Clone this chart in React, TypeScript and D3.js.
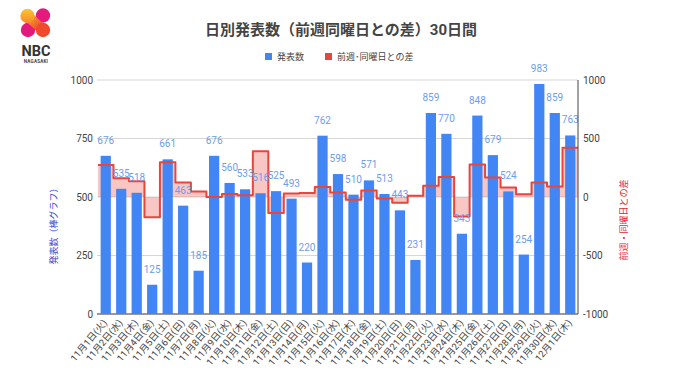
import React from 'react';
import * as d3 from 'd3';

const dates = [
  '11月1日(火)', '11月2日(水)', '11月3日(木)', '11月4日(金)', '11月5日(土)', '11月6日(日)', '11月7日(月)',
  '11月8日(火)', '11月9日(水)', '11月10日(木)', '11月11日(金)', '11月12日(土)', '11月13日(日)', '11月14日(月)',
  '11月15日(火)', '11月16日(水)', '11月17日(木)', '11月18日(金)', '11月19日(土)', '11月20日(日)', '11月21日(月)',
  '11月22日(火)', '11月23日(水)', '11月24日(木)', '11月25日(金)', '11月26日(土)', '11月27日(日)', '11月28日(月)',
  '11月29日(火)', '11月30日(水)', '12月1日(木)',
];
const counts = [
  676, 535, 518, 125, 661, 463, 185,
  676, 560, 533, 516, 525, 493, 220,
  762, 598, 510, 571, 513, 443, 231,
  859, 770, 343, 848, 679, 524, 254,
  983, 859, 763,
];
const diffs = [
  273, 160, 135, -174, 296, 125, 46,
  0, 25, 15, 391, -136, 30, 35,
  86, 38, -23, 55, -12, -50, 11,
  97, 172, -167, 277, 166, 81, 23,
  124, 89, 420,
];
const leftTicks = [0, 250, 500, 750, 1000];
const rightTicks = [-1000, -500, 0, 500, 1000];

const TITLE = '日別発表数（前週同曜日との差）30日間';
const LEG_BAR = '発表数';
const LEG_DIFF = '前週･同曜日との差';
const Y_LEFT_TITLE = '発表数（棒グラフ）';
const Y_RIGHT_TITLE = '前週・同曜日との差';

const W = 680;
const H = 382;
const PL = 98;
const PR = 578;
const PT = 80;
const PB = 314;

const FONT = "Roboto, 'Noto Sans CJK JP', 'Noto Sans', sans-serif";
const BLUE = '#4285f4';
const RED = '#e8453c';

export default function App() {
  const x = d3.scaleBand<string>().domain(dates).range([PL, PR]).padding(0);
  const yL = d3.scaleLinear().domain([0, 1000]).range([PB, PT]);
  const yR = d3.scaleLinear().domain([-1000, 1000]).range([PB, PT]);
  const bw = x.bandwidth();
  const barW = bw * 0.66;

  const stepPts: [number, number][] = diffs.map((d, i) => [x(dates[i]) as number, d]);
  stepPts.push([PR, diffs[diffs.length - 1]]);

  const area = d3
    .area<[number, number]>()
    .x((d) => d[0])
    .y0(yR(0))
    .y1((d) => yR(d[1]))
    .curve(d3.curveStepAfter);
  const line = d3
    .line<[number, number]>()
    .x((d) => d[0])
    .y((d) => yR(d[1]))
    .curve(d3.curveStepAfter);

  return (
    <svg
      width={W}
      height={H}
      style={{ position: 'absolute', left: 0, top: 0, background: '#fff' }}
      fontFamily={FONT}
    >
      <defs>
        <linearGradient id="lgTL" x1="0" y1="0" x2="0" y2="1">
          <stop offset="0" stopColor="#fcc62e" />
          <stop offset="1" stopColor="#f6892f" />
        </linearGradient>
        <linearGradient id="lgDiag" x1="0" y1="0" x2="1" y2="1">
          <stop offset="0" stopColor="#f7a530" />
          <stop offset="1" stopColor="#ee3b2b" />
        </linearGradient>
      </defs>
      <rect x={0} y={0} width={W} height={H} fill="#fff" />

      {/* Logo */}
      <g>
        <circle cx={28} cy={30} r={7.2} fill="#e3197c" />
        <circle cx={43} cy={15.5} r={7.2} fill="#e61a7d" />
        <line x1={27.5} y1={16} x2={43} y2={30} stroke="url(#lgDiag)" strokeWidth={10} strokeLinecap="round" />
        <circle cx={27.5} cy={16} r={7.2} fill="url(#lgTL)" />
        <circle cx={43} cy={30} r={7.2} fill="#ef4a2b" />
        <text x={36} y={56} textAnchor="middle" fontSize={14.5} fontWeight={700} fill="#333" fontFamily="Roboto, sans-serif">
          NBC
        </text>
        <text x={36} y={63} textAnchor="middle" fontSize={4.6} fontWeight={700} fill="#444" letterSpacing={0.2}>
          NAGASAKI
        </text>
      </g>

      {/* Title */}
      <text x={341} y={35} textAnchor="middle" fontSize={15} fontWeight={700} fill="#444">
        {TITLE}
      </text>

      {/* Legend */}
      <rect x={265} y={53} width={7} height={7} fill={BLUE} />
      <text x={277} y={60} fontSize={9} fill="#444">{LEG_BAR}</text>
      <rect x={325} y={53} width={7} height={7} fill={RED} />
      <text x={337} y={60} fontSize={9} fill="#444">{LEG_DIFF}</text>

      {/* Gridlines */}
      {leftTicks.map((t) => (
        <line key={'g' + t} x1={PL - 1} x2={PR} y1={yL(t)} y2={yL(t)} stroke={t === 0 ? '#333' : '#d6d6d6'} strokeWidth={1} />
      ))}

      {/* Diff area fill */}
      <path d={area(stepPts) || ''} fill={RED} fillOpacity={0.3} />

      {/* Bars */}
      {counts.map((v, i) => {
        const cx = (x(dates[i]) as number) + bw / 2;
        return <rect key={'b' + i} x={cx - barW / 2} y={yL(v)} width={barW} height={PB - yL(v)} fill={BLUE} />;
      })}

      {/* Diff line */}
      <path d={line(stepPts) || ''} fill="none" stroke={RED} strokeWidth={2} strokeLinejoin="round" />

      {/* Value labels */}
      {counts.map((v, i) => {
        const cx = (x(dates[i]) as number) + bw / 2;
        return (
          <text key={'v' + i} x={cx} y={yL(v) - 12} textAnchor="middle" fontSize={10} fill="#6d9eeb">
            {v}
          </text>
        );
      })}

      {/* Right axis line */}
      <line x1={PR} x2={PR} y1={PT} y2={PB} stroke="#444" strokeWidth={1} />

      {/* Left ticks */}
      {leftTicks.map((t) => (
        <text key={'lt' + t} x={93} y={yL(t) + 3.5} textAnchor="end" fontSize={10} fill="#444">
          {t}
        </text>
      ))}
      {/* Right ticks */}
      {rightTicks.map((t) => (
        <text key={'rt' + t} x={583} y={yR(t) + 3.5} textAnchor="start" fontSize={10} fill="#444">
          {t}
        </text>
      ))}

      {/* X labels */}
      {dates.map((d, i) => {
        const cx = (x(d) as number) + bw / 2 + 2;
        const cy = PB + 9;
        return (
          <text
            key={'x' + i}
            x={cx}
            y={cy}
            textAnchor="end"
            fontSize={9.5}
            fill="#444"
            transform={`rotate(-50 ${cx} ${cy})`}
          >
            {d}
          </text>
        );
      })}

      {/* Axis titles */}
      <text
        x={0}
        y={0}
        transform={`translate(57 224) rotate(-90)`}
        textAnchor="middle"
        fontSize={9}
        fill="#3546d6"
      >
        {Y_LEFT_TITLE}
      </text>
      <text
        x={0}
        y={0}
        transform={`translate(627 220) rotate(-90)`}
        textAnchor="middle"
        fontSize={9}
        fill="#e3262f"
      >
        {Y_RIGHT_TITLE}
      </text>
    </svg>
  );
}
